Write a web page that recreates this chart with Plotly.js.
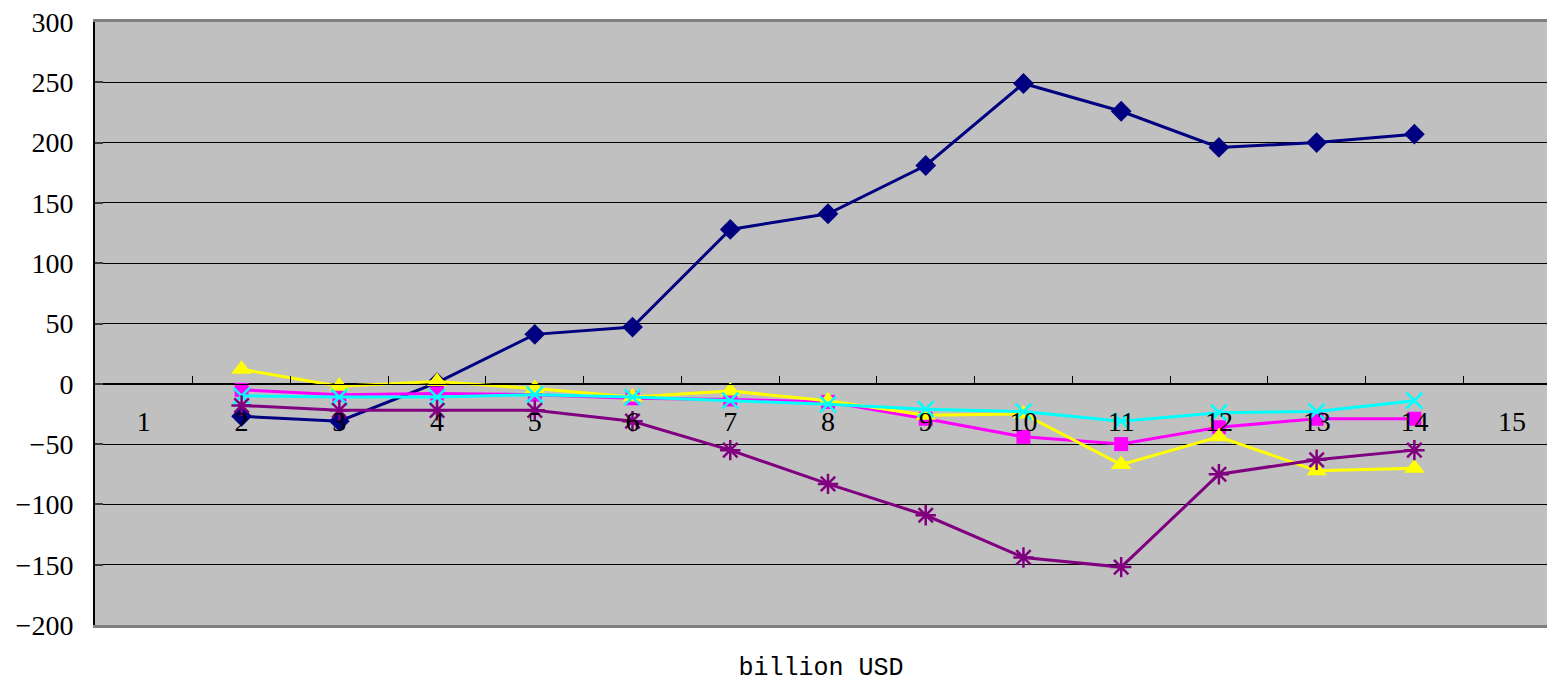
<!DOCTYPE html>
<html>
<head>
<meta charset="utf-8">
<script src="https://cdn.plot.ly/plotly-3.0.1.min.js"></script>
<style>html,body{margin:0;padding:0;background:#fff;}#chart{width:1547px;height:683px;}</style>
</head>
<body>
<div id="chart"></div>
<script>
// Data
const categories = [1, 2, 3, 4, 5, 6, 7, 8, 9, 10, 11, 12, 13, 14, 15];
const xPoints = [2, 3, 4, 5, 6, 7, 8, 9, 10, 11, 12, 13, 14];
const seriesNavy    = [-27, -31, 1, 41, 47, 128, 141, 181, 249, 226, 196, 200, 207];
const seriesMagenta = [-5, -9, -8, -9, -12, -13, -15, -29, -44, -50, -36, -29, -29];
const seriesYellow  = [12, -2, 2, -4, -11, -6, -14, -26, -25, -67, -44, -72, -70];
const seriesCyan    = [-10, -11, -11, -9, -11, -14, -17, -21, -23, -31, -24, -23, -14];
const seriesPurple  = [-18, -22, -22, -22, -31, -55, -83, -109, -144, -152, -75, -63, -55];
const categoryLabels = categories.map(String);
const boundaryTicks = categories.slice(0, 14).map(c => c + 0.5);
const yTicks = [-200, -150, -100, -50, 0, 50, 100, 150, 200, 250, 300];

const xRange = [0.5, 15.357];
const serif = '"Liberation Serif", "DejaVu Serif", serif';

function tr(y, color, symbol, size, open) {
  return {
    x: xPoints, y: y, type: 'scatter', mode: 'lines+markers',
    line: {color: color, width: 3},
    marker: open ? {symbol: symbol, size: size, color: color, line: {color: color, width: 2.5}}
                 : {symbol: symbol, size: size, color: color},
    xaxis: 'x', yaxis: 'y', showlegend: false, hoverinfo: 'x+y'
  };
}

const data = [
  tr(seriesNavy, '#000080', 'diamond', 16, false),
  tr(seriesMagenta, '#FF00FF', 'square', 14, false),
  tr(seriesYellow, '#FFFF00', 'triangle-up', 18, false),
  tr(seriesCyan, '#00FFFF', 'x-thin-open', 16, true),
  tr(seriesPurple, '#800080', 'asterisk-open', 17, true)
];

const layout = {
  width: 1547, height: 683,
  margin: {l: 95, r: 0, t: 22, b: 58},
  paper_bgcolor: '#FFFFFF',
  plot_bgcolor: '#C0C0C0',
  showlegend: false,
  font: {family: serif, color: '#000', size: 28},
  yaxis: {
    range: [-200, 300], tickvals: yTicks, ticktext: yTicks.map(v => v < 0 ? '\u2212' + Math.abs(v) : String(v)),
    showgrid: true, gridcolor: '#000000', gridwidth: 1,
    zeroline: false, showline: true, linecolor: '#000000', linewidth: 2,
    ticks: 'inside', ticklen: 8, tickcolor: '#404040', tickwidth: 2,
    ticklabelstandoff: 14,
    tickfont: {family: serif, size: 28, color: '#000'},
    fixedrange: true
  },
  xaxis: {
    range: xRange, anchor: 'free', position: 0.4,
    showgrid: false, zeroline: false, showline: true, linecolor: '#000000', linewidth: 1,
    tickvals: boundaryTicks, showticklabels: false,
    ticks: 'inside', ticklen: 8, tickcolor: '#000000', tickwidth: 1,
    fixedrange: true
  },
  xaxis2: {
    range: xRange, overlaying: 'x', anchor: 'free', position: 0.37,
    showgrid: false, zeroline: false, showline: false,
    tickvals: categories, ticktext: categoryLabels, ticks: '',
    tickfont: {family: serif, size: 28, color: '#000'},
    fixedrange: true
  },
  xaxis3: {
    range: xRange, overlaying: 'x', anchor: 'y', side: 'bottom',
    showgrid: false, zeroline: false, showline: true, linecolor: '#808080', linewidth: 3, mirror: true,
    showticklabels: false, ticks: '',
    title: {text: 'billion USD', standoff: 43, font: {family: '"Liberation Mono", "DejaVu Sans Mono", monospace', size: 25, color: '#000'}},
    automargin: false,
    fixedrange: true
  }
};

// helper traces so xaxis2/xaxis3 get rendered
data.push({x: [1], y: [null], xaxis: 'x2', yaxis: 'y', type: 'scatter', mode: 'markers', showlegend: false, hoverinfo: 'skip'});
data.push({x: [1], y: [null], xaxis: 'x3', yaxis: 'y', type: 'scatter', mode: 'markers', showlegend: false, hoverinfo: 'skip'});

Plotly.newPlot('chart', data, layout, {displayModeBar: false, staticPlot: true});
</script>
</body>
</html>
